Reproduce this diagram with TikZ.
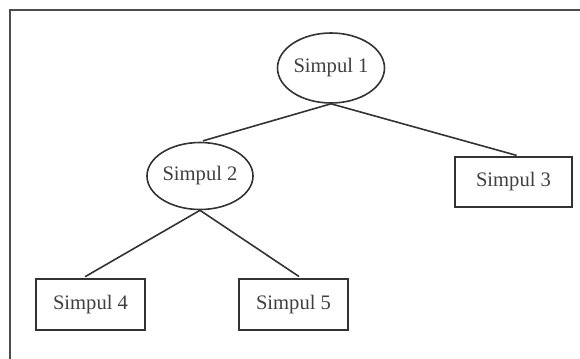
\documentclass[tikz,border=0pt]{standalone}
\usepackage{fontspec}
\setmainfont{Liberation Serif}
\usetikzlibrary{shapes.geometric}

\begin{document}
\begin{tikzpicture}[
      x=0.5pt, y=-0.5pt,
      every node/.style = {font=\fontsize{10.3}{12}\selectfont, text=black!75},
      simpul bulat/.style = {ellipse, draw=black!80, thick, inner sep=0pt},
      simpul kotak/.style = {rectangle, draw=black!80, thick, inner sep=0pt,
                             minimum width=54.5pt, minimum height=25.5pt},
      cabang/.style = {draw=black!80, thick, shorten >= 1.5pt},
      bingkai/.style = {draw=black!70, thick},
    ]
    \useasboundingbox (0,0) rectangle (580,359);

    %% Frame round the tree
    \draw [bingkai] (580,10) -- (10,10) -- (10,359);

    %% The vertices
    \node (s1) [simpul bulat, minimum width=53.5pt, minimum height=35pt]
      at (331,68) {Simpul 1};
    \node (s2) [simpul bulat, minimum width=50pt, minimum height=33.5pt]
      at (200,176) {Simpul 2};
    \node (s3) [simpul kotak, minimum width=58.5pt, minimum height=25pt]
      at (513.5,182) {Simpul 3};
    \node (s4) [simpul kotak] at (90.5,304.5) {Simpul 4};
    \node (s5) [simpul kotak] at (293.5,304.5) {Simpul 5};

    %% The edges
    \draw [cabang] (s1.south) -- (s2.north);
    \draw [cabang] (s1.south) -- ([xshift=3pt] s3.north);
    \draw [cabang] (s2.south) -- ([xshift=-4pt] s4.north);
    \draw [cabang] (s2.south) -- ([xshift=4pt] s5.north);
\end{tikzpicture}
\end{document}
